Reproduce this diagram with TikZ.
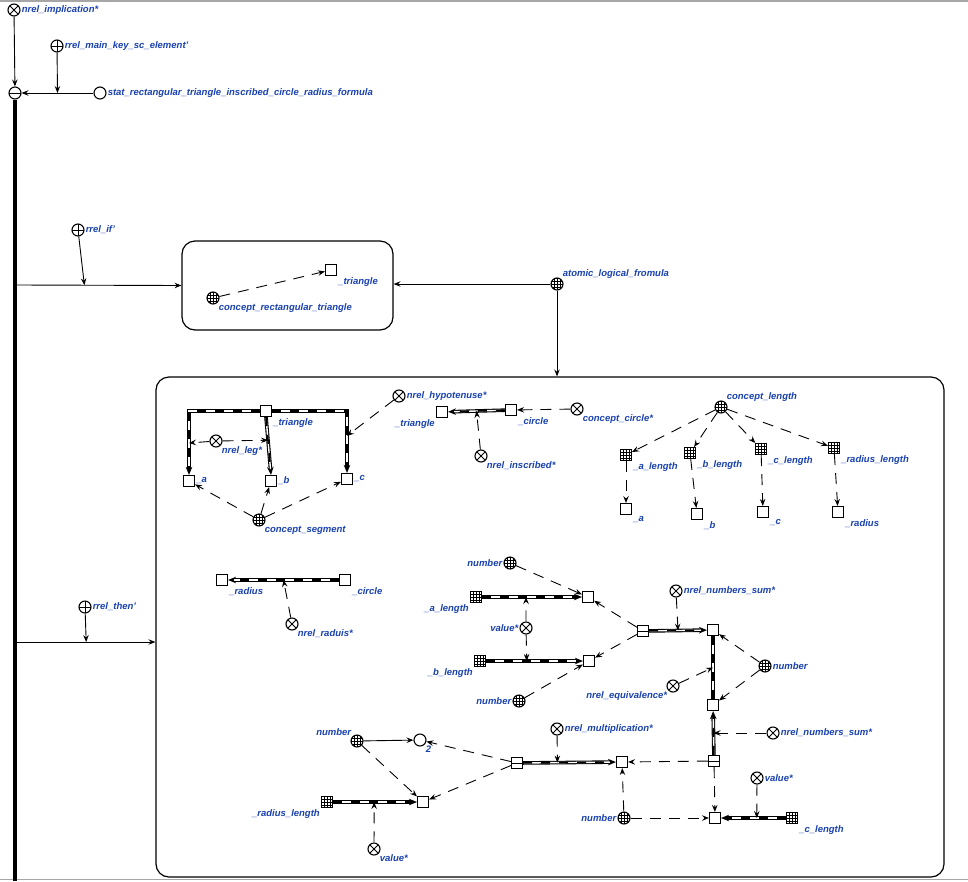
\documentclass[tikz,border=0pt]{standalone}
\usepackage{fontspec}
\setmainfont{Liberation Sans}
\usetikzlibrary{arrows.meta}
\definecolor{sclblue}{RGB}{25,65,175}
\newcommand{\lblfont}{\fontsize{9.5}{11}\selectfont\bfseries\itshape}
\tikzset{
  every label/.style={font=\lblfont, text=sclblue, inner sep=1pt},
  elt/.style={draw, line width=1.1pt, fill=white, inner sep=0pt},
  gnode/.style={elt, circle, minimum size=12pt},
  vnode/.style={elt, rectangle, minimum size=11pt},
  nrel/.style={gnode, path picture={\draw[line width=1pt] (path picture bounding box.north west) -- (path picture bounding box.south east) (path picture bounding box.north east) -- (path picture bounding box.south west);}},
  rrel/.style={gnode, path picture={\draw[line width=1pt] (path picture bounding box.north) -- (path picture bounding box.south) (path picture bounding box.west) -- (path picture bounding box.east);}},
  ctuple/.style={gnode, path picture={\draw[line width=1pt] (path picture bounding box.west) -- (path picture bounding box.east);}},
  cclass/.style={gnode, path picture={\draw[line width=0.35pt, step=3.1pt] ([shift={(-8pt,-8pt)}]path picture bounding box.center) grid ([shift={(8pt,8pt)}]path picture bounding box.center);}},
  vclass/.style={vnode, path picture={\draw[line width=0.35pt, step=2.8pt] ([shift={(-8pt,-8pt)}]path picture bounding box.center) grid ([shift={(8pt,8pt)}]path picture bounding box.center);}},
  vtuple/.style={vnode, path picture={\draw[line width=1pt] (path picture bounding box.west) -- (path picture bounding box.east);}},
  ctx/.style={draw, line width=1.2pt, rounded corners=13pt, inner sep=0pt},
  arc/.style={draw, line width=0.9pt, -{Stealth[length=7pt,width=5.5pt,inset=2.5pt]}},
  varc/.style={arc, dash pattern=on 11pt off 8pt},
  cline/.style={line width=1.6pt, dash pattern=on 9pt off 9pt,
    preaction={draw, -, solid, black, line width=3.6pt, shorten >=#1},
    preaction={draw, -, solid, white, line width=1.4pt, shorten >=#1}},
  cline/.default=0pt,
  carc/.style={cline=6pt, -{Stealth[length=8pt,width=6.5pt,inset=2.5pt]}},
  bus/.style={line width=3.6pt},
}
\begin{document}
\begin{tikzpicture}[x=1pt, y=-1pt]
\useasboundingbox (0,0) rectangle (968,881);
\draw[gray!70, line width=1.5pt] (0,1) -- (968,1);
\draw[gray!70, line width=1.5pt] (0,879.5) -- (968,879.5);

\node[nrel, label=right:nrel\_implication*] (impl) at (14,10) {};
\node[rrel, label=right:rrel\_main\_key\_sc\_element'] (mainkey) at (57,46) {};
\node[ctuple] (pair) at (15,93) {};
\node[gnode, label=right:stat\_rectangular\_triangle\_inscribed\_circle\_radius\_formula] (stat) at (100,93) {};
\node[rrel, label=right:rrel\_if'] (rif) at (78,230) {};
\node[rrel, label=right:rrel\_then'] (rthen) at (85,607) {};
\coordinate (busend) at (15,881);
\coordinate (bif) at (17,285);
\coordinate (bthen) at (17,642);

\node[ctx, minimum width=211pt, minimum height=89pt] (ctx1) at (287.5,285.5) {};
\node[ctx, minimum width=788pt, minimum height=500pt] (ctx2) at (550,627) {};
\node[cclass, label=below right:concept\_rectangular\_triangle] (rtri) at (213,298) {};
\node[vnode, label=below right:\_triangle] (tri0) at (331,270) {};
\node[cclass, label=above right:atomic\_logical\_fromula] (atomic) at (557,284) {};

\node[vnode, label=below right:\_triangle] (triA) at (266,411) {};
\node[vnode, label=right:\_a] (a1) at (189,481) {};
\node[vnode, label=right:\_b] (b1) at (271,481) {};
\node[vnode, label=right:\_c] (c1) at (347,479) {};
\node[nrel, label=below right:nrel\_leg*] (leg) at (216,441) {};
\node[nrel, label=right:nrel\_hypotenuse*] (hyp) at (399,396) {};
\node[cclass, label=below right:concept\_segment] (seg) at (259,520) {};

\node[vnode, label=below left:\_triangle] (triB) at (442,412) {};
\node[vnode, label=below right:\_circle] (circB) at (511,410) {};
\node[nrel, label=below right:nrel\_inscribed*] (inscr) at (481,456) {};
\node[nrel, label=below right:concept\_circle*] (ccirc) at (577,409) {};

\node[cclass, label=above right:concept\_length] (clen) at (721,407) {};
\node[vclass, label=below right:\_a\_length] (alen) at (626,455) {};
\node[vclass, label=below right:\_b\_length] (blen) at (690,453) {};
\node[vclass, label=below right:\_c\_length] (cl) at (761,449) {};
\node[vclass, label=below right:\_radius\_length] (rlen) at (834,448) {};
\node[vnode, label=below right:\_a] (a2) at (626,509) {};
\node[vnode, label=below right:\_b] (b2) at (697,514) {};
\node[vnode, label=below right:\_c] (c2) at (763,512) {};
\node[vnode, label=below right:\_radius] (r2) at (838,512) {};

\node[vnode, label=below right:\_radius] (radD) at (222,580) {};
\node[vnode, label=below right:\_circle] (circD) at (345,580) {};
\node[nrel, label=below right:nrel\_raduis*] (nrad) at (292,624) {};

\node[cclass, label=left:number] (num1) at (510,563) {};
\node[vclass, label=below left:\_a\_length] (alenE) at (476,597) {};
\node[vnode] (sqa) at (588,597) {};
\node[nrel, label=left:value*] (val1) at (526,628) {};
\node[vclass, label=below left:\_b\_length] (blenE) at (480,661) {};
\node[vnode] (sqb) at (589,661) {};
\node[cclass, label=left:number] (num2) at (519,701) {};
\node[vtuple] (tup1) at (643,631) {};
\node[vnode] (sum1) at (713,630) {};
\node[nrel, label=right:nrel\_numbers\_sum*] (nsum1) at (676,591) {};
\node[cclass, label=right:number] (num3) at (765,666) {};
\node[vnode] (eq2) at (713,705) {};
\node[nrel, label=below left:nrel\_equivalence*] (nequiv) at (673,686) {};
\node[vtuple] (tup2) at (714,761) {};
\node[nrel, label=right:nrel\_numbers\_sum*] (nsum2) at (773,733) {};
\node[vnode] (mult) at (622,762) {};
\node[vtuple] (tup3) at (517,763) {};
\node[nrel, label=right:nrel\_multiplication*] (nmult) at (557,729) {};
\node[cclass, label=left:number] (num4) at (624,818) {};
\node[vnode] (res) at (715,818) {};
\node[vclass, label=below right:\_c\_length] (clenE) at (792,818) {};
\node[nrel, label=right:value*] (val3) at (757,778) {};
\node[cclass, label=above left:number] (num5) at (357,741) {};
\node[gnode, label=below right:2] (two) at (420,740) {};
\node[vclass, label=below left:\_radius\_length] (rlenE) at (327,802) {};
\node[vnode] (sqr) at (423,802) {};
\node[nrel, label=below right:value*] (val2) at (374,849) {};

\draw[arc] (impl) -- (pair);
\draw[arc] (stat) -- coordinate[pos=.5] (mkey) (pair);
\draw[arc] (mainkey) -- (mkey);
\draw[bus] (pair.south) -- (busend);
\draw[arc] (bif) -- coordinate[pos=.41] (mif) (ctx1.west);
\draw[arc] (rif) -- (mif);
\draw[arc] (bthen) -- coordinate[pos=.5] (mthen) (bthen -| ctx2.west);
\draw[arc] (rthen) -- (mthen);
\draw[varc] (rtri) -- (tri0);
\draw[arc] (atomic) -- (atomic -| ctx1.east);
\draw[arc] (atomic) -- (atomic |- ctx2.north);

\draw[carc] (triA.west) -| coordinate[pos=.75] (lega) (a1.north);
\draw[carc] (triA.south) -- coordinate[pos=.4] (legb) (b1.north);
\draw[carc] (triA.east) -| coordinate[pos=.7] (hypm) (c1.north);
\draw[varc] (leg) -- (lega);
\draw[varc] (leg) -- (legb);
\draw[varc] (hyp) -- (hypm);
\draw[varc] (seg) -- (a1);
\draw[varc] (seg) -- (b1);
\draw[varc] (seg) -- (c1);

\draw[carc] (circB) -- coordinate[pos=.5] (inscm) (triB);
\draw[varc] (inscr) -- (inscm);
\draw[varc] (ccirc) -- (circB);

\foreach \l/\v in {alen/a2, blen/b2, cl/c2, rlen/r2}{
  \draw[varc] (clen) -- (\l);
  \draw[varc] (\l) -- (\v);
}

\draw[carc] (circD) -- coordinate[pos=.5] (radm) (radD);
\draw[varc] (nrad) -- (radm);

\draw[carc] (alenE) -- coordinate[pos=.44] (am) (sqa);
\draw[carc] (blenE) -- coordinate[pos=.42] (bm) (sqb);
\draw[varc] (val1) -- (am);
\draw[varc] (val1) -- (bm);
\draw[varc] (num1) -- (sqa);
\draw[varc] (num2) -- (sqb);
\draw[varc] (tup1) -- (sqa);
\draw[varc] (tup1) -- (sqb);
\draw[carc] (tup1) -- coordinate[pos=.5] (s1m) (sum1);
\draw[varc] (nsum1) -- (s1m);
\draw[varc] (num3) -- (sum1);
\draw[varc] (num3) -- (eq2);
\draw[cline] (sum1) -- coordinate[pos=.5] (eqm) (eq2);
\draw[varc] (nequiv) -- (eqm);
\draw[carc] (tup2) -- coordinate[pos=.5] (s2m) (eq2);
\draw[varc] (nsum2) -- (s2m);
\draw[varc] (tup2) -- (mult);
\draw[varc] (tup2) -- (res);
\draw[carc] (tup3) -- coordinate[pos=.37] (mm) (mult);
\draw[varc] (nmult) -- (mm);
\draw[varc] (num4) -- (mult);
\draw[varc] (num4) -- (res);
\draw[carc] (clenE) -- coordinate[pos=.45] (cm) (res);
\draw[varc] (val3) -- (cm);
\draw[varc] (tup3) -- (two);
\draw[varc] (tup3) -- (sqr);
\draw[arc] (num5) -- (two);
\draw[varc] (num5) -- (sqr);
\draw[carc] (rlenE) -- coordinate[pos=.49] (rm) (sqr);
\draw[varc] (val2) -- (rm);
\end{tikzpicture}
\end{document}
